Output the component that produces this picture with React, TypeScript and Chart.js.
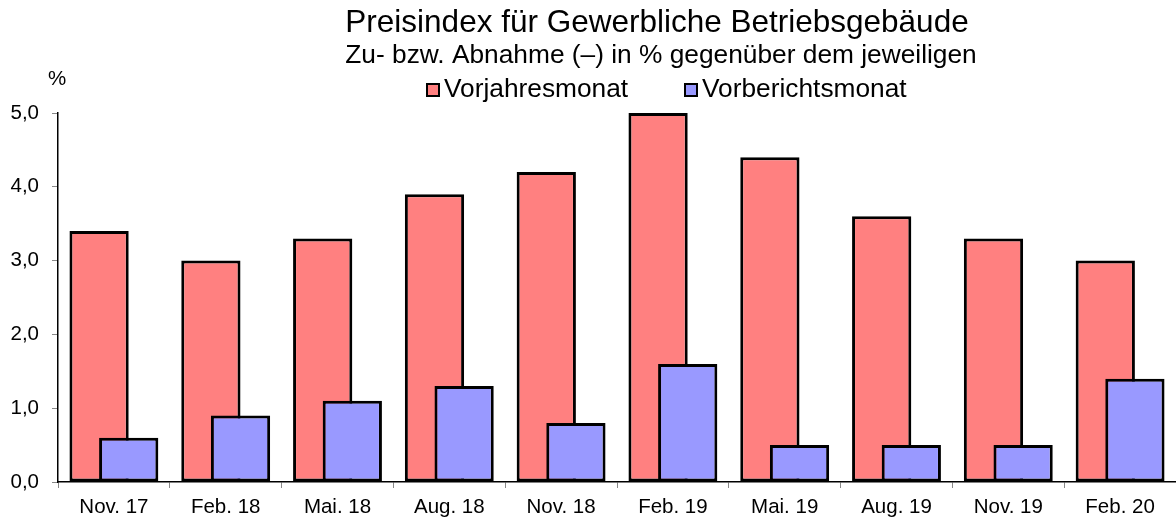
import React, { useEffect, useRef } from "react";
import { Chart, registerables } from "chart.js";

Chart.register(...registerables);

const categories = ["Nov. 17", "Feb. 18", "Mai. 18", "Aug. 18", "Nov. 18", "Feb. 19", "Mai. 19", "Aug. 19", "Nov. 19", "Feb. 20"];
const vorjahresmonat = [3.4, 3.0, 3.3, 3.9, 4.2, 5.0, 4.4, 3.6, 3.3, 3.0];
const vorberichtsmonat = [0.6, 0.9, 1.1, 1.3, 0.8, 1.6, 0.5, 0.5, 0.5, 1.4];
const seriesNames = ["Vorjahresmonat", "Vorberichtsmonat"];
const seriesColors = ["#FF8080", "#9999FF"];
const titleText = "Preisindex für Gewerbliche Betriebsgebäude";
const subtitleText = "Zu- bzw. Abnahme (–) in % gegenüber dem jeweiligen";
const unitText = "%";

const FONT = '"Liberation Sans", Arial, sans-serif';

const overlayPlugin = {
  id: "overlayOrder",
  beforeDatasetDraw(chart: any, args: any) {
    if (args.index === 1) return false;
  },
  afterDatasetsDraw(chart: any) {
    const meta = chart.getDatasetMeta(1);
    if (meta && !meta.hidden) meta.controller.draw();
  },
};

const headerPlugin = {
  id: "header",
  afterDraw(chart: any) {
    const ctx = chart.ctx;
    ctx.save();
    ctx.fillStyle = "#000";
    ctx.textAlign = "center";
    ctx.textBaseline = "alphabetic";
    ctx.font = `31.5px ${FONT}`;
    ctx.fillText(titleText, 657, 32);
    ctx.font = `26.3px ${FONT}`;
    ctx.fillText(subtitleText, 661, 63);
    // legend
    const items = [
      { x: 426, label: seriesNames[0], color: seriesColors[0] },
      { x: 684, label: seriesNames[1], color: seriesColors[1] },
    ];
    ctx.textAlign = "left";
    ctx.font = `26.3px ${FONT}`;
    for (const it of items) {
      ctx.fillStyle = it.color;
      ctx.fillRect(it.x, 83, 14, 14);
      ctx.strokeStyle = "#000";
      ctx.lineWidth = 2;
      ctx.strokeRect(it.x + 1, 84, 12, 12);
      ctx.fillStyle = "#000";
      ctx.fillText(it.label, it.x + 18, 97);
    }
    ctx.font = `20.5px ${FONT}`;
    ctx.textAlign = "center";
    ctx.fillText(unitText, 57, 85);
    ctx.restore();
  },
};

export default function App() {
  const ref = useRef<HTMLCanvasElement>(null);
  useEffect(() => {
    if (!ref.current) return;
    const chart = new Chart(ref.current, {
      type: "bar",
      data: {
        labels: categories,
        datasets: [
          {
            label: seriesNames[0],
            data: vorjahresmonat,
            backgroundColor: seriesColors[0],
            borderColor: "#000",
            borderWidth: 3,
            borderSkipped: false,
            categoryPercentage: 0.53,
            barPercentage: 2.0,
          },
          {
            label: seriesNames[1],
            data: vorberichtsmonat,
            backgroundColor: seriesColors[1],
            borderColor: "#000",
            borderWidth: 3,
            borderSkipped: false,
            categoryPercentage: 0.53,
            barPercentage: 2.0,
          },
        ],
      },
      options: {
        responsive: false,
        animation: false,
        devicePixelRatio: 1,
        layout: { padding: { top: 113, left: 0, right: 0, bottom: 0 } },
        plugins: {
          legend: { display: false },
          title: { display: false },
          tooltip: { enabled: false },
        },
        scales: {
          x: {
            grid: {
              drawOnChartArea: false,
              tickLength: 6,
              tickColor: "#888",
              color: "#888",
            },
            border: { color: "#000", width: 1.5 },
            ticks: {
              color: "#000",
              font: { family: FONT, size: 20.5 },
              padding: 7,
              maxRotation: 0,
              autoSkip: false,
            },
            afterFit: (scale: any) => {
              scale.height = 40;
            },
          },
          y: {
            min: 0,
            max: 5,
            grid: {
              drawOnChartArea: false,
              tickLength: 6,
              tickColor: "#888",
              color: "#888",
            },
            border: { color: "#000", width: 1.5 },
            ticks: {
              stepSize: 1,
              color: "#000",
              font: { family: FONT, size: 20.5 },
              padding: 13,
              callback: (v: any) => Number(v).toFixed(1).replace(".", ","),
            },
            afterFit: (scale: any) => {
              scale.width = 58;
            },
          },
        },
      },
      plugins: [overlayPlugin, headerPlugin],
    });
    return () => chart.destroy();
  }, []);
  return (
    <div style={{ position: "absolute", left: 0, top: 0, width: 1176, height: 522, background: "#fff" }}>
      <canvas ref={ref} width={1176} height={522} />
    </div>
  );
}
